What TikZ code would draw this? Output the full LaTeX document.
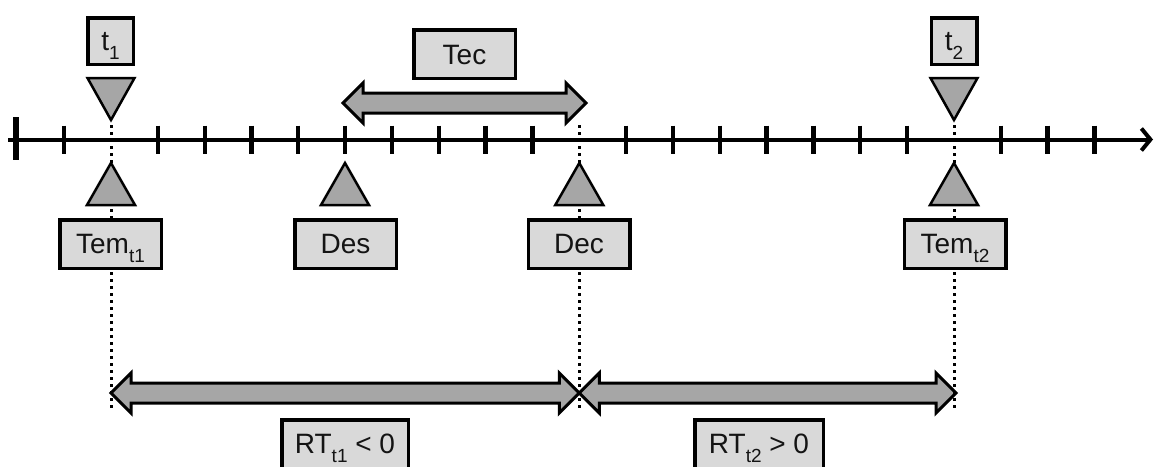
\documentclass[tikz,border=0pt]{standalone}
\usepackage{fontspec}
\setmainfont{Liberation Sans}
\usetikzlibrary{arrows.meta,calc}

\definecolor{boxfill}{HTML}{D9D9D9}
\definecolor{markfill}{HTML}{A6A6A6}
\definecolor{ink}{HTML}{141414}

% lowered index set in a smaller size
\newcommand\lowidx[1]{\raisebox{-9pt}{\fontsize{19}{19}\selectfont #1}}

% horizontal block arrow with heads at both ends
\newcommand\blockarrow[2]{%
  \draw[blockarr] (#1) -- ($(#1)+(20,-20)$) -- ($(#1)+(20,-10)$)
    -- ($(#2)+(-20,-10)$) -- ($(#2)+(-20,-20)$) -- (#2)
    -- ($(#2)+(-20,20)$) -- ($(#2)+(-20,10)$)
    -- ($(#1)+(20,10)$) -- ($(#1)+(20,20)$) -- cycle;}

\tikzset{
  lbl/.style={draw=black, line width=3.5pt, fill=boxfill, text=ink,
    font=\fontsize{28}{28}\selectfont, inner sep=0pt,
    text height=21pt, text depth=3pt},
  smallbox/.style={lbl, minimum width=45.5pt, minimum height=46.5pt},
  widebox/.style={lbl, minimum width=101.5pt, minimum height=48.5pt},
  rtbox/.style={lbl, minimum height=48.5pt},
  marker/.style={draw=black, line width=2.5pt, fill=markfill, line join=miter},
  blockarr/.style={draw=black, line width=3pt, fill=markfill, line join=miter},
  guide/.style={line width=3pt, dash pattern=on 3pt off 4pt},
  tickmark/.style={line width=4.3pt},
  downtri/.pic={\draw[marker] (-23.5,-21) -- (23.5,-21) -- (0,21) -- cycle;},
  uptri/.pic={\draw[marker] (0,-21) -- (24,21) -- (-24,21) -- cycle;},
}

\begin{document}
\begin{tikzpicture}[x=1pt,y=-1pt]
\clip (0,0) rectangle (1156,466);
\fill[white] (0,0) rectangle (1156,466);

% time axis
\coordinate (axL) at (8,139.5);
\coordinate (axR) at (1153,139.5);
\draw[line width=4pt, -{Straight Barb[length=9pt,width=22pt,line width=4pt]}] (axL) -- (axR);
\draw[line width=6.5pt] (16,117) -- (16,160);
\foreach \i in {-1,0,...,21}{
  \pgfmathsetmacro\xx{111+46.83*\i}
  \ifnum\i=0 \else\ifnum\i=10 \else\ifnum\i=18 \else
    \draw[tickmark] (\xx,125.5) -- (\xx,153.5);
  \fi\fi\fi
}

% moments on the axis
\coordinate (xT1) at (111,125);
\coordinate (xDec) at (579.3,125);
\coordinate (xT2) at (954,125);
\coordinate (eT1) at (111,411);
\coordinate (eDec) at (579.3,411);
\coordinate (eT2) at (954,411);

% response-time arrows
\coordinate (rtA) at (111,393);
\coordinate (rtB) at (579.3,393);
\coordinate (rtC) at (956,393);
\blockarrow{rtA}{rtB}
\blockarrow{rtB}{rtC}

% vertical guides
\draw[guide] (xT1) -- (eT1);
\draw[guide] (xDec) -- (eDec);
\draw[guide] (xT2) -- (eT2);

% markers above and below the axis
\pic at (111,99) {downtri};
\pic at (954,99) {downtri};
\pic at (111,184) {uptri};
\pic at (345,184) {uptri};
\pic at (579.3,184) {uptri};
\pic at (954,184) {uptri};

% labels
\node[smallbox] (t1) at (110.5,41) {t\lowidx{1}};
\node[smallbox] (t2) at (954,41) {t\lowidx{2}};
\node[widebox, text depth=0pt] (tec) at (464.5,54) {Tec};
\node[widebox] (temA) at (110.5,244) {Tem\lowidx{t1}};
\node[widebox] (des) at (345.5,244) {Des};
\node[widebox] (dec) at (579,244) {Dec};
\node[widebox] (temB) at (955,244) {Tem\lowidx{t2}};
\node[rtbox, minimum width=126.5pt] (rt1) at (345,444) {RT\lowidx{t1} < 0};
\node[rtbox, minimum width=128.5pt] (rt2) at (759,444) {RT\lowidx{t2} > 0};

% duration of the episode
\coordinate (tecL) at (343,103);
\coordinate (tecR) at (586,103);
\blockarrow{tecL}{tecR}
\end{tikzpicture}
\end{document}
